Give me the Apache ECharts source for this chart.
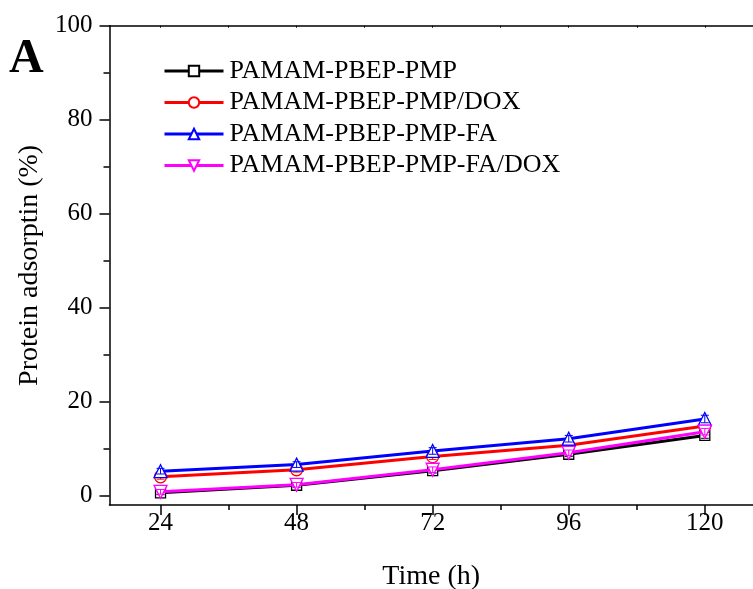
<!DOCTYPE html>
<html>
<head>
<meta charset="utf-8">
<script src="https://cdn.jsdelivr.net/npm/echarts@6/dist/echarts.min.js"></script>
<style>
  html, body { margin: 0; padding: 0; background: #fff; }
  #main { width: 753px; height: 589px; }
</style>
</head>
<body>
<div id="main"></div>
<script>
// time points (h)
var times = [24, 48, 72, 96, 120];
var majorX = [24, 48, 72, 96, 120];
var minorX = [36, 60, 84, 108];
var topX = [24, 36, 48, 60, 72, 84, 96, 108, 120];
var majorY = [0, 20, 40, 60, 80, 100];
var minorY = [10, 30, 50, 70, 90];

var names = [
  'PAMAM-PBEP-PMP',
  'PAMAM-PBEP-PMP/DOX',
  'PAMAM-PBEP-PMP-FA',
  'PAMAM-PBEP-PMP-FA/DOX'
];
var pmp = [0.6, 2.2, 5.3, 8.8, 12.8];
var pmpDox = [4.0, 5.5, 8.3, 10.7, 14.8];
var pmpFa = [5.2, 6.6, 9.5, 12.1, 16.3];
var pmpFaDox = [0.8, 2.3, 5.5, 9.1, 13.6];

// error bars (+/-)
var pmpErr = [0.4, 0.4, 0.5, 0.5, 0.6];
var pmpDoxErr = [0.5, 0.5, 0.6, 0.6, 0.7];
var pmpFaErr = [0.6, 0.6, 0.7, 0.7, 0.8];
var pmpFaDoxErr = [0.5, 0.5, 0.6, 0.6, 0.7];

var colors = ['#000000', '#ff0000', '#0000ff', '#ff00ff'];
var symbols = ['rect', 'circle', 'triangle', 'path://M0,0 L10,0 L5,9 Z'];
var sizes = [10, 12, 13, 13];
var allData = [pmp, pmpDox, pmpFa, pmpFaDox];
var allErr = [pmpErr, pmpDoxErr, pmpFaErr, pmpFaDoxErr];

var font = "'Liberation Serif', 'Times New Roman', serif";

var chart = echarts.init(document.getElementById('main'));

function pairs(vals) {
  return vals.map(function (v, i) { return [times[i], v]; });
}

var series = [];
allData.forEach(function (vals, i) {
  series.push({
    name: names[i],
    type: 'line',
    data: pairs(vals),
    symbol: symbols[i],
    symbolSize: sizes[i],
    z: 2 + i * 2,
    lineStyle: { color: colors[i], width: 3 },
    itemStyle: { color: '#fff', borderColor: colors[i], borderWidth: 1.3 }
  });
  // error bars
  series.push({
    type: 'custom',
    z: 3 + i * 2,
    silent: true,
    data: vals.map(function (v, j) { return [times[j], v - allErr[i][j], v + allErr[i][j]]; }),
    renderItem: function (params, api) {
      var lo = api.coord([api.value(0), api.value(1)]);
      var hi = api.coord([api.value(0), api.value(2)]);
      var w = 4;
      var st = { stroke: colors[i], lineWidth: 1 };
      return {
        type: 'group',
        children: [
          { type: 'line', shape: { x1: lo[0], y1: lo[1], x2: hi[0], y2: hi[1] }, style: st },
          { type: 'line', shape: { x1: lo[0] - w, y1: lo[1], x2: lo[0] + w, y2: lo[1] }, style: st },
          { type: 'line', shape: { x1: hi[0] - w, y1: hi[1], x2: hi[0] + w, y2: hi[1] }, style: st }
        ]
      };
    }
  });
});

var option = {
  animation: false,
  backgroundColor: '#fff',
  textStyle: { fontFamily: font },
  graphic: [{
    type: 'text', left: 9, top: 36,
    style: { text: 'A', font: 'bold 48px ' + font, fill: '#000' }
  }],
  legend: {
    orient: 'vertical',
    left: 158, top: 53,
    itemWidth: 59, itemHeight: 13,
    itemGap: 5.5,
    lineStyle: { width: 3 },
    textStyle: { fontSize: 26, fontFamily: font, color: '#000', padding: [0, 0, 0, 1] },
    data: names
  },
  grid: { left: 109.5, right: 0, top: 25.7, bottom: 84, containLabel: false, outerBoundsMode: 'none' },
  xAxis: [{
    type: 'value', min: 15, max: 128.5, position: 'bottom',
    name: 'Time (h)', nameLocation: 'middle', nameGap: 58,
    nameTextStyle: { fontSize: 28, fontFamily: font, color: '#000' },
    axisLine: { onZero: false, lineStyle: { color: '#000', width: 1.5 } },
    axisTick: { customValues: majorX, length: 10, lineStyle: { color: '#000', width: 1.5 } },
    axisLabel: { customValues: majorX, fontSize: 25, fontFamily: font, color: '#000', margin: 6 },
    splitLine: { show: false }
  }, {
    type: 'value', min: 15, max: 128.5, position: 'bottom',
    axisLine: { show: false, onZero: false },
    axisTick: { customValues: minorX, length: 5, lineStyle: { color: '#000', width: 1.5 } },
    axisLabel: { show: false },
    splitLine: { show: false }
  }, {
    type: 'value', min: 15, max: 128.5, position: 'top',
    axisLine: { onZero: false, lineStyle: { color: '#000', width: 1.5 } },
    axisTick: { customValues: topX, inside: true, length: 2, lineStyle: { color: '#000', width: 1 } },
    axisLabel: { show: false },
    splitLine: { show: false }
  }],
  yAxis: [{
    type: 'value', min: -2, max: 100, position: 'left',
    name: 'Protein adsorptin (%)', nameLocation: 'middle', nameGap: 57,
    nameTextStyle: { fontSize: 28, fontFamily: font, color: '#000' },
    axisLine: { show: true, onZero: false, lineStyle: { color: '#000', width: 1.5 } },
    axisTick: { customValues: majorY, length: 10, lineStyle: { color: '#000', width: 1.5 } },
    axisLabel: { customValues: majorY, fontSize: 25, fontFamily: font, color: '#000', margin: 17 },
    splitLine: { show: false }
  }, {
    type: 'value', min: -2, max: 100, position: 'left',
    axisLine: { show: false, onZero: false },
    axisTick: { customValues: minorY, length: 6, lineStyle: { color: '#000', width: 1.5 } },
    axisLabel: { show: false },
    splitLine: { show: false }
  }],
  series: series
};

chart.setOption(option);
</script>
</body>
</html>
